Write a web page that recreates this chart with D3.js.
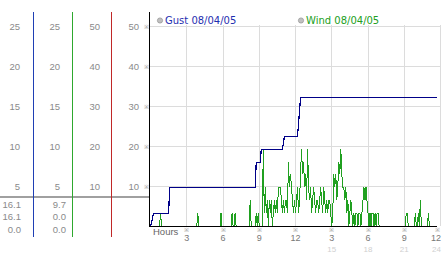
<!DOCTYPE html>
<html>
<head>
<meta charset="utf-8">
<script src="https://cdn.jsdelivr.net/npm/d3@7"></script>
<style>
  body { margin: 0; background: #fff; }
  svg { display: block; font-family: "Liberation Sans", Arial, sans-serif; }
</style>
</head>
<body>
<svg id="chart" width="442" height="253"></svg>
<script>
// gust, km/h, step line (minutes after midnight)
const gustMinutes = [0, 15, 90, 95, 520, 525, 545, 550, 655, 665, 730, 735, 745, 1425];
const gustKmh = [0, 3.2, 3.2, 9.7, 9.7, 16.1, 16.1, 19.3, 19.3, 22.5, 22.5, 25.7, 32.2, 32.2];

// wind, km/h, one sample every 5 minutes, one row = 2 hours
const windStep = 5;
const windKmh = [
  0, 0, 0, 0, 0, 0, 0, 0, 0, 0, 3.2, 0, 0, 0, 0, 0, 0, 0, 0, 0, 0, 0, 0, 0,
  0, 0, 0, 0, 0, 0, 0, 0, 0, 0, 0, 0, 0, 0, 0, 0, 0, 0, 0, 0, 0, 0, 0, 3.2,
  0, 0, 0, 0, 0, 0, 0, 0, 0, 0, 0, 0, 0, 0, 0, 0, 0, 0, 0, 0, 0, 0, 3.2, 0,
  0, 0, 0, 0, 0, 0, 0, 0, 0, 3.2, 0, 0, 3.2, 0, 0, 0, 0, 0, 0, 0, 0, 0, 0, 0,
  0, 0, 0, 6.4, 0, 0, 0, 0, 0, 3.2, 0, 3.2, 0, 0, 0, 0, 19.3, 3.2, 9.7, 3.2, 6.4, 0, 6.4, 3.2,
  6.4, 0, 3.2, 6.4, 3.2, 6.4, 3.2, 9.7, 9.7, 9.7, 6.4, 3.2, 6.4, 3.2, 6.4, 6.4, 3.2, 16.1, 9.7, 12.9, 9.7, 6.4, 3.2, 6.4,
  3.2, 6.4, 9.7, 3.2, 6.4, 12.9, 19.3, 12.9, 16.1, 9.7, 12.9, 6.4, 19.3, 9.7, 6.4, 9.7, 3.2, 6.4, 9.7, 6.4, 3.2, 6.4, 6.4, 3.2,
  6.4, 9.7, 6.4, 3.2, 9.7, 6.4, 3.2, 6.4, 3.2, 6.4, 6.4, 3.2, 0, 3.2, 12.9, 9.7, 12.9, 6.4, 9.7, 16.1, 12.9, 19.3, 12.9, 9.7,
  9.7, 6.4, 9.7, 3.2, 6.4, 0, 3.2, 6.4, 3.2, 0, 3.2, 0, 3.2, 3.2, 0, 3.2, 3.2, 0, 3.2, 6.4, 9.7, 6.4, 9.7, 6.4,
  3.2, 0, 3.2, 0, 3.2, 3.2, 0, 3.2, 0, 3.2, 3.2, 0, 0, 0, 0, 0, 0, 0, 0, 0, 0, 0, 0, 0,
  0, 0, 0, 0, 0, 0, 0, 0, 0, 0, 0, 0, 0, 0, 3.2, 3.2, 0, 0, 0, 0, 0, 0, 0, 3.2,
  0, 0, 3.2, 0, 6.4, 0, 0, 0, 0, 0, 0, 0, 3.2, 0, 0, 0, 0, 0, 0
];

const plotTicks = [10, 20, 30, 40, 50];
const halfTicks = [25, 20, 15, 10, 5];
const hourTicks = [3, 6, 9, 12, 15, 18, 21, 24];
const clockLabels = ['3', '6', '9', '12', '3', '6', '9', '12'];
const dayLabels = ['', '', '', '', '15', '18', '21', '24'];
const gustSummary = ['16.1', '16.1', '0.0'];
const windSummary = ['9.7', '0.0', '0.0'];
const legendNames = ['Gust 08/04/05', 'Wind 08/04/05'];

const svg = d3.select('#chart');

const x = d3.scaleLinear().domain([0, 1440]).range([150, 440]);
const y = d3.scaleLinear().domain([0, 50]).range([226, 26]);

// grid
const grid = svg.append('g').attr('shape-rendering', 'crispEdges').attr('stroke', '#dcdcdc');
grid.selectAll('line.h').data(plotTicks).enter().append('line')
  .attr('x1', 150).attr('x2', 440)
  .attr('y1', d => y(d) + 0.5).attr('y2', d => y(d) + 0.5);
grid.selectAll('line.v').data(hourTicks).enter().append('line')
  .attr('x1', d => x(d * 60) + 0.5).attr('x2', d => x(d * 60) + 0.5)
  .attr('y1', 25).attr('y2', 226);

// left panel: column rules and scales
const rules = svg.append('g').attr('shape-rendering', 'crispEdges');
rules.append('line').attr('x1', 0).attr('x2', 149).attr('y1', 197).attr('y2', 197)
  .attr('stroke', '#a0a0a0').attr('stroke-width', 2);
[[33.5, '#1f3fb4', 237], [72.5, '#2ea82e', 237], [111.5, '#c02828', 237], [149.5, '#000', 226]]
  .forEach(([lx, col, bottom]) => {
    rules.append('line').attr('x1', lx).attr('x2', lx).attr('y1', 12).attr('y2', bottom)
      .attr('stroke', col).attr('stroke-width', 1);
  });

const labelStyle = sel => sel.attr('font-size', 9.5).attr('fill', '#8a8a8a').attr('text-anchor', 'end');

[20, 60].forEach(cx => {
  svg.append('g').selectAll('text').data(halfTicks).enter().append('text')
    .call(labelStyle)
    .attr('x', cx).attr('y', d => y(d * 2) + 4)
    .text(d => d);
});
[100, 139].forEach(cx => {
  svg.append('g').selectAll('text').data(plotTicks).enter().append('text')
    .call(labelStyle)
    .attr('x', cx).attr('y', d => y(d) + 4)
    .text(d => d);
});

// tick marks beside the plot axis
svg.append('g').selectAll('text').data(plotTicks).enter().append('text')
  .attr('x', 146).attr('y', d => y(d) + 2.5)
  .attr('text-anchor', 'middle').attr('font-size', 6).attr('fill', '#999')
  .text('※');

const rowY = [208, 220, 233];
svg.append('g').selectAll('text').data(gustSummary).enter().append('text')
  .call(labelStyle).attr('x', 21).attr('y', (d, i) => rowY[i]).text(d => d);
svg.append('g').selectAll('text').data(windSummary).enter().append('text')
  .call(labelStyle).attr('x', 66).attr('y', (d, i) => rowY[i]).text(d => d);

// x axis
const xAxis = svg.append('g');
xAxis.append('text').attr('x', 153).attr('y', 235).attr('font-size', 9.5).attr('fill', '#666').text('Hours');
xAxis.selectAll('text.mark').data(hourTicks).enter().append('text')
  .attr('x', d => x(d * 60) + (d === 24 ? -3 : 0.5)).attr('y', 232)
  .attr('text-anchor', 'middle').attr('font-size', 6).attr('fill', '#999')
  .text('※');
xAxis.selectAll('text.clock').data(hourTicks).enter().append('text')
  .attr('x', d => d === 24 ? 441 : x(d * 60) + 0.5).attr('y', 240.5)
  .attr('text-anchor', d => d === 24 ? 'end' : 'middle')
  .attr('font-size', 9).attr('fill', '#777')
  .text((d, i) => clockLabels[i]);
xAxis.selectAll('text.day').data(hourTicks).enter().append('text')
  .attr('x', d => d === 24 ? 441 : x(d * 60) + 0.5).attr('y', 252)
  .attr('text-anchor', d => d === 24 ? 'end' : 'middle')
  .attr('font-size', 8).attr('fill', '#d0d0d0')
  .text((d, i) => dayLabels[i]);

// series
const windLine = d3.line()
  .x((d, i) => x(i * windStep) + 0.5)
  .y(d => y(d));
svg.append('path').datum(windKmh)
  .attr('d', windLine)
  .attr('fill', 'none').attr('stroke', '#20a020').attr('stroke-width', 1)
  .attr('shape-rendering', 'crispEdges');

svg.append('line').attr('x1', 149).attr('x2', 437).attr('y1', 226.5).attr('y2', 226.5)
  .attr('stroke', '#000').attr('shape-rendering', 'crispEdges');

const gustLine = d3.line()
  .x((d, i) => x(gustMinutes[i]) + 0.5)
  .y(d => y(d) + 0.5);
svg.append('path').datum(gustKmh)
  .attr('d', gustLine)
  .attr('fill', 'none').attr('stroke', '#000088').attr('stroke-width', 1.2)
  .attr('shape-rendering', 'crispEdges');

// legend
const legend = svg.append('g').attr('font-family', '"DejaVu Sans", Verdana, sans-serif').attr('font-size', 10);
[[160, '#1f2fb0'], [301, '#22a022']].forEach(([lx, col], i) => {
  legend.append('circle').attr('cx', lx).attr('cy', 20.5).attr('r', 2.6)
    .attr('fill', '#c0c0c0').attr('stroke', '#9a9a9a').attr('stroke-width', 0.8);
  legend.append('text').attr('x', lx + 5).attr('y', 24).attr('fill', col).text(legendNames[i]);
});
</script>
</body>
</html>
